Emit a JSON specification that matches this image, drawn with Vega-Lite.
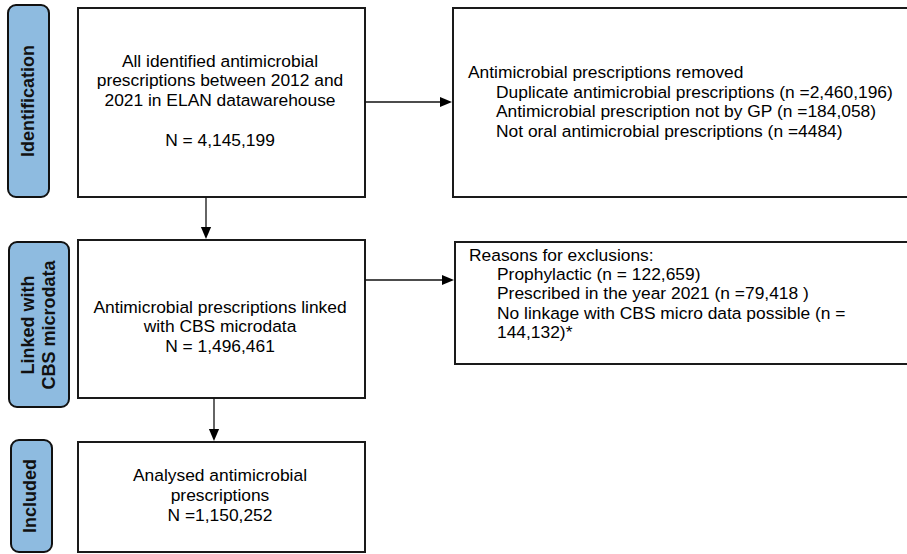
{
  "$schema": "https://vega.github.io/schema/vega-lite/v6.json",
  "width": 907,
  "height": 554,
  "padding": 0,
  "autosize": {"type": "none"},
  "background": "white",
  "config": {"view": {"stroke": null}},
  "layer": [
    {
      "data": {"values": [
        {"x1": 78, "x2": 365, "y1": 8, "y2": 197},
        {"x1": 78, "x2": 365, "y1": 240, "y2": 398},
        {"x1": 78, "x2": 365, "y1": 442, "y2": 552},
        {"x1": 453, "x2": 915, "y1": 8, "y2": 197},
        {"x1": 455, "x2": 915, "y1": 242, "y2": 364}
      ]},
      "mark": {"type": "rect", "fill": "white", "stroke": "#1a1a1a", "strokeWidth": 2},
      "encoding": {
        "x": {"field": "x1", "type": "quantitative", "scale": {"domain": [0, 907], "nice": false, "zero": false}, "axis": null},
        "x2": {"field": "x2"},
        "y": {"field": "y1", "type": "quantitative", "scale": {"domain": [0, 554], "nice": false, "zero": false, "reverse": true}, "axis": null},
        "y2": {"field": "y2"}
      }
    },
    {
      "data": {"values": [
        {"x1": 8, "x2": 49, "y1": 5, "y2": 197},
        {"x1": 9, "x2": 69, "y1": 242, "y2": 407},
        {"x1": 11, "x2": 52, "y1": 440, "y2": 552}
      ]},
      "mark": {"type": "rect", "fill": "#8ebbe0", "stroke": "#111111", "strokeWidth": 2, "cornerRadius": 8},
      "encoding": {
        "x": {"field": "x1", "type": "quantitative", "scale": {"domain": [0, 907], "nice": false, "zero": false}, "axis": null},
        "x2": {"field": "x2"},
        "y": {"field": "y1", "type": "quantitative", "scale": {"domain": [0, 554], "nice": false, "zero": false, "reverse": true}, "axis": null},
        "y2": {"field": "y2"}
      }
    },
    {
      "data": {"values": [
        {"x1": 206, "y1": 197, "x2": 206, "y2": 230},
        {"x1": 214, "y1": 398, "x2": 214, "y2": 432},
        {"x1": 365, "y1": 102, "x2": 442, "y2": 102},
        {"x1": 365, "y1": 280, "x2": 444, "y2": 280}
      ]},
      "mark": {"type": "rule", "stroke": "#111111", "strokeWidth": 1.3},
      "encoding": {
        "x": {"field": "x1", "type": "quantitative", "scale": {"domain": [0, 907], "nice": false, "zero": false}, "axis": null},
        "x2": {"field": "x2"},
        "y": {"field": "y1", "type": "quantitative", "scale": {"domain": [0, 554], "nice": false, "zero": false, "reverse": true}, "axis": null},
        "y2": {"field": "y2"}
      }
    },
    {
      "data": {"values": [
        {"x": 206, "y": 233},
        {"x": 214, "y": 435}
      ]},
      "mark": {"type": "point", "shape": "M-0.85,-1L0.85,-1L0,1Z", "size": 144, "filled": true, "fill": "#000000", "strokeWidth": 0, "opacity": 1},
      "encoding": {
        "x": {"field": "x", "type": "quantitative", "scale": {"domain": [0, 907], "nice": false, "zero": false}, "axis": null},
        "y": {"field": "y", "type": "quantitative", "scale": {"domain": [0, 554], "nice": false, "zero": false, "reverse": true}, "axis": null}
      }
    },
    {
      "data": {"values": [
        {"x": 446, "y": 102},
        {"x": 448, "y": 280}
      ]},
      "mark": {"type": "point", "shape": "M-1,-0.85L1,0L-1,0.85Z", "size": 144, "filled": true, "fill": "#000000", "strokeWidth": 0, "opacity": 1},
      "encoding": {
        "x": {"field": "x", "type": "quantitative", "scale": {"domain": [0, 907], "nice": false, "zero": false}, "axis": null},
        "y": {"field": "y", "type": "quantitative", "scale": {"domain": [0, 554], "nice": false, "zero": false, "reverse": true}, "axis": null}
      }
    },
    {
      "data": {"values": [
        {"x": 220, "y": 67, "text": "All identified antimicrobial"},
        {"x": 220, "y": 86, "text": "prescriptions between 2012 and"},
        {"x": 220, "y": 106, "text": "2021 in ELAN datawarehouse"},
        {"x": 220, "y": 146, "text": "N = 4,145,199"},
        {"x": 220, "y": 313, "text": "Antimicrobial prescriptions linked"},
        {"x": 220, "y": 332, "text": "with CBS microdata"},
        {"x": 220, "y": 352, "text": "N = 1,496,461"},
        {"x": 220, "y": 481, "text": "Analysed antimicrobial"},
        {"x": 220, "y": 501, "text": "prescriptions"},
        {"x": 220, "y": 521, "text": "N =1,150,252"}
      ]},
      "mark": {"type": "text", "align": "center", "baseline": "alphabetic", "font": "Liberation Sans", "fontSize": 17.4, "fill": "#000000"},
      "encoding": {
        "x": {"field": "x", "type": "quantitative", "scale": {"domain": [0, 907], "nice": false, "zero": false}, "axis": null},
        "y": {"field": "y", "type": "quantitative", "scale": {"domain": [0, 554], "nice": false, "zero": false, "reverse": true}, "axis": null},
        "text": {"field": "text"}
      }
    },
    {
      "data": {"values": [
        {"x": 468, "y": 78, "text": "Antimicrobial prescriptions removed"},
        {"x": 496, "y": 97.5, "text": "Duplicate antimicrobial prescriptions (n =2,460,196)"},
        {"x": 496, "y": 117, "text": "Antimicrobial prescription not by GP (n =184,058)"},
        {"x": 496, "y": 136.5, "text": "Not oral antimicrobial prescriptions (n =4484)"},
        {"x": 469, "y": 261, "text": "Reasons for exclusions:"},
        {"x": 497, "y": 280, "text": "Prophylactic (n = 122,659)"},
        {"x": 497, "y": 299, "text": "Prescribed in the year 2021 (n =79,418 )"},
        {"x": 497, "y": 319, "text": "No linkage with CBS micro data possible (n ="},
        {"x": 497, "y": 338, "text": "144,132)*"}
      ]},
      "mark": {"type": "text", "align": "left", "baseline": "alphabetic", "font": "Liberation Sans", "fontSize": 17.4, "fill": "#000000"},
      "encoding": {
        "x": {"field": "x", "type": "quantitative", "scale": {"domain": [0, 907], "nice": false, "zero": false}, "axis": null},
        "y": {"field": "y", "type": "quantitative", "scale": {"domain": [0, 554], "nice": false, "zero": false, "reverse": true}, "axis": null},
        "text": {"field": "text"}
      }
    },
    {
      "data": {"values": [
        {"x": 29, "y": 101, "text": "Identification"},
        {"x": 29, "y": 325, "text": "Linked with"},
        {"x": 50, "y": 325, "text": "CBS microdata"},
        {"x": 31, "y": 496, "text": "Included"}
      ]},
      "mark": {"type": "text", "align": "center", "baseline": "middle", "angle": 270, "font": "Liberation Sans", "fontWeight": "bold", "fontSize": 18, "fill": "#111111"},
      "encoding": {
        "x": {"field": "x", "type": "quantitative", "scale": {"domain": [0, 907], "nice": false, "zero": false}, "axis": null},
        "y": {"field": "y", "type": "quantitative", "scale": {"domain": [0, 554], "nice": false, "zero": false, "reverse": true}, "axis": null},
        "text": {"field": "text"}
      }
    }
  ]
}
